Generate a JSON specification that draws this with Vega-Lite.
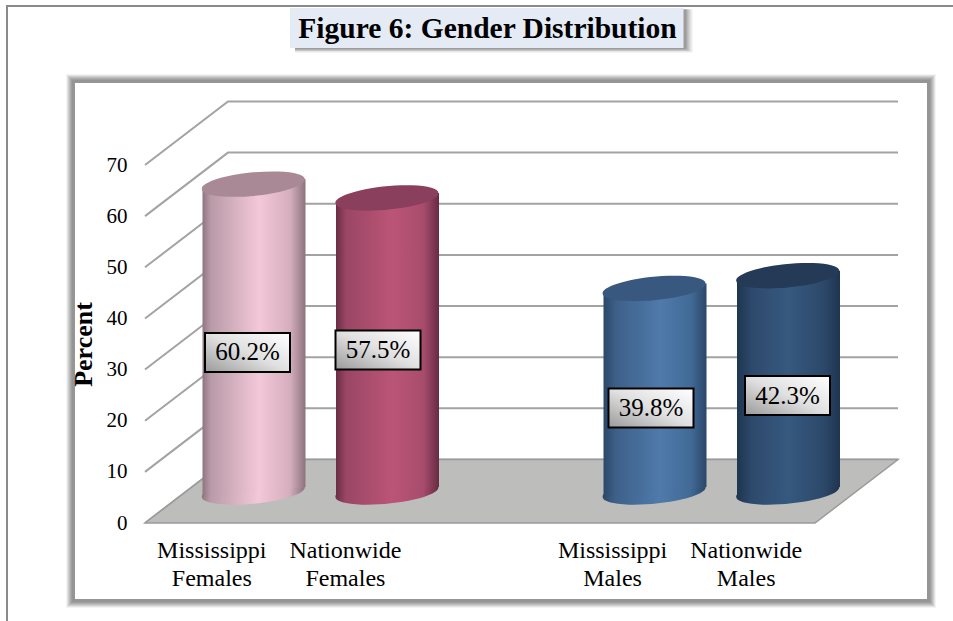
{
"$schema":"https://vega.github.io/schema/vega-lite/v6.json",
"width":670,"height":358,
"autosize":"none",
"padding":{"left":145,"top":165,"right":138,"bottom":98},
"background":"white",
"config":{"view":{"stroke":null}},
"datasets":{
"heading":[{"text":"Figure 6: Gender Distribution","along":342.5,"level":94.84}],
"cylinders":[
{"name":"Mississippi Females","value":60.2,"text":"60.2%","labelAlong":102.5,"labelLevel":33.34},
{"name":"Nationwide Females","value":57.5,"text":"57.5%","labelAlong":233,"labelLevel":33.83},
{"name":"Mississippi Males","value":39.8,"text":"39.8%","labelAlong":506,"labelLevel":22.49},
{"name":"Nationwide Males","value":42.3,"text":"42.3%","labelAlong":642.5,"labelLevel":24.93}
],
"body":[
{"name":"Mississippi Females","along":57.5,"top":59.22,"base":-0.98},
{"name":"Mississippi Females","along":160.5,"top":61.18,"base":0.98},
{"name":"Nationwide Females","along":191,"top":56.52,"base":-0.98},
{"name":"Nationwide Females","along":294,"top":58.48,"base":0.98},
{"name":"Mississippi Males","along":458.5,"top":38.82,"base":-0.98},
{"name":"Mississippi Males","along":561.5,"top":40.78,"base":0.98},
{"name":"Nationwide Males","along":592,"top":41.32,"base":-0.98},
{"name":"Nationwide Males","along":695,"top":43.28,"base":0.98}
],
"panels":[
{"part":"title shadow 1","a":150,"a2":547.5,"b":100.4,"b2":92.02},
{"part":"title shadow 2","a":150,"a2":545.5,"b":100.4,"b2":92.22},
{"part":"title shadow 3","a":150,"a2":543.5,"b":100.4,"b2":92.41},
{"part":"title shadow 4","a":150,"a2":541.5,"b":100.4,"b2":92.61},
{"part":"title box","a":145,"a2":538.5,"b":100.7,"b2":92.9},
{"part":"shadow 1","a":-79,"a2":791,"b":87.8,"b2":-16.62},
{"part":"shadow 2","a":-78,"a2":790,"b":87.6,"b2":-16.42},
{"part":"shadow 3","a":-77,"a2":789,"b":87.41,"b2":-16.23},
{"part":"shadow 4","a":-76,"a2":788,"b":87.21,"b2":-16.03},
{"part":"shadow 5","a":-75,"a2":787,"b":87.02,"b2":-15.84},
{"part":"shadow 6","a":-74,"a2":786,"b":86.82,"b2":-15.64},
{"part":"shadow 7","a":-73,"a2":785,"b":86.63,"b2":-15.45},
{"part":"plot panel","a":-70,"a2":782,"b":86.04,"b2":-14.86}
],
"page":[
{"i":1,"a":-138,"b":-19.6},
{"i":2,"a":-138,"b":101.1},
{"i":3,"a":808,"b":101.1}
],
"floor":[
{"a":0,"lo":0,"hi":0},
{"a":83,"lo":0,"hi":12.42},
{"a":670,"lo":0,"hi":12.42},
{"a":753,"lo":12.42,"hi":12.42}
],
"grid":[
{"t":0,"a":0,"b":0},{"t":0,"a":83,"b":12.42},{"t":0,"a":753,"b":12.42},
{"t":10,"a":0,"b":10},{"t":10,"a":83,"b":22.42},{"t":10,"a":753,"b":22.42},
{"t":20,"a":0,"b":20},{"t":20,"a":83,"b":32.42},{"t":20,"a":753,"b":32.42},
{"t":30,"a":0,"b":30},{"t":30,"a":83,"b":42.42},{"t":30,"a":753,"b":42.42},
{"t":40,"a":0,"b":40},{"t":40,"a":83,"b":52.42},{"t":40,"a":753,"b":52.42},
{"t":50,"a":0,"b":50},{"t":50,"a":83,"b":62.42},{"t":50,"a":753,"b":62.42},
{"t":60,"a":0,"b":60},{"t":60,"a":83,"b":72.42},{"t":60,"a":753,"b":72.42},
{"t":70,"a":0,"b":70},{"t":70,"a":83,"b":82.42},{"t":70,"a":753,"b":82.42}
]
},
"resolve":{"scale":{"x":"independent","fill":"independent"},"axis":{"x":"independent"}},
"layer":[
{"data":{"name":"page"},"mark":{"type":"line","color":"#8a8a8a","strokeWidth":2,"clip":false},
 "encoding":{"x":{"field":"a","type":"quantitative","axis":null,"scale":{"domain":[0,670],"nice":false,"zero":false}},
 "y":{"field":"b","type":"quantitative","scale":{"domain":[0,70],"nice":false,"zero":false}},
 "order":{"field":"i","type":"ordinal"}}},
{"data":{"name":"panels"},"mark":{"type":"rect"},
 "encoding":{"x":{"field":"a","type":"quantitative","axis":null,"scale":{"domain":[0,670],"nice":false,"zero":false}},"x2":{"field":"a2"},
 "y":{"field":"b","type":"quantitative"},"y2":{"field":"b2"},
 "fill":{"field":"part","type":"nominal","legend":null,"scale":{
  "domain":["title shadow 1","title shadow 2","title shadow 3","title shadow 4","title box","shadow 1","shadow 2","shadow 3","shadow 4","shadow 5","shadow 6","shadow 7","plot panel"],
  "range":["#ececec","#d4d4d4","#b8b8b8","#9c9c9c","#e4ebf5","#f4f4f4","#e2e2e2","#cfcfcf","#bdbdbd","#adadad","#a0a0a0","#959595","#ffffff"]}}}},
{"data":{"name":"heading"},"mark":{"type":"text","font":"Liberation Serif","fontSize":29.5,"fontWeight":"bold","color":"#000000","align":"center","baseline":"alphabetic"},
 "encoding":{"x":{"field":"along","type":"quantitative","axis":null,"scale":{"domain":[0,670],"nice":false,"zero":false}},"y":{"field":"level","type":"quantitative"},"text":{"field":"text","type":"nominal"}}},
{"data":{"name":"grid"},"mark":{"type":"line","color":"#a3a3a3","strokeWidth":2},
 "encoding":{"x":{"field":"a","type":"quantitative","axis":null,"scale":{"domain":[0,670],"nice":false,"zero":false}},
 "y":{"field":"b","type":"quantitative"},"detail":{"field":"t","type":"nominal"}}},
{"data":{"name":"floor"},"mark":{"type":"area","fill":"#bdbdbb","stroke":"#9a9a9a","strokeWidth":1.5},
 "encoding":{"x":{"field":"a","type":"quantitative","axis":null,"scale":{"domain":[0,670],"nice":false,"zero":false}},
 "y":{"field":"hi","type":"quantitative"},"y2":{"field":"lo"}}},
{"data":{"name":"cylinders"},"mark":{"type":"point","filled":true,"opacity":0,"size":1},
 "encoding":{"x":{"field":"name","type":"nominal","sort":null,
   "scale":{"type":"band","domain":["Mississippi Females","Nationwide Females","gap","Mississippi Males","Nationwide Males"],"range":[0,668],"paddingInner":0,"paddingOuter":0},
   "axis":{"title":null,"values":["Mississippi Females","Nationwide Females","Mississippi Males","Nationwide Males"],"labelExpr":"split(datum.label,' ')","labelAngle":0,"labelFont":"Liberation Serif","labelFontSize":24,"labelColor":"#000000","labelLineHeight":28,"labelPadding":15,"labelBaseline":"top","domain":false,"ticks":false,"grid":false,"labelOverlap":false,"labelLimit":0,"zindex":1}},
  "y":{"field":"value","type":"quantitative","axis":{"values":[0,10,20,30,40,50,60,70],"title":"Percent","titleFont":"Liberation Serif","titleFontSize":26,"titleFontWeight":"bold","titleColor":"#000000","titleX":-62,"titleY":179,"titleBaseline":"middle","labelFont":"Liberation Serif","labelFontSize":21,"labelColor":"#000000","labelPadding":18,"domain":false,"ticks":false,"grid":false,"zindex":1}}}},
{"data":{"name":"cylinders"},"transform":[{"filter":"datum.name==='Mississippi Females'"}],"mark":{"type":"point","filled":true,"opacity":1,"xOffset":41.5,"yOffset":-31,"shape":"M -1 0.098 A 1.005 0.223 -5.6 1 1 1 -0.098 A 1.005 0.223 -5.6 1 1 -1 0.098 Z","size":10609,"fill":{"gradient":"linear","x1":0,"y1":0,"x2":1,"y2":0,"stops":[{"offset":0,"color":"#8f7580"},{"offset":0.08,"color":"#b99aa8"},{"offset":0.55,"color":"#f3c8d8"},{"offset":0.85,"color":"#d5aebd"},{"offset":1,"color":"#8d737e"}]}},
 "encoding":{"x":{"field":"name","type":"nominal","axis":null,"scale":{"type":"band","domain":["Mississippi Females","Nationwide Females","gap","Mississippi Males","Nationwide Males"],"range":[0,668],"paddingInner":0,"paddingOuter":0}},"y":{"datum":0,"type":"quantitative"}}},
{"data":{"name":"cylinders"},"transform":[{"filter":"datum.name==='Nationwide Females'"}],"mark":{"type":"point","filled":true,"opacity":1,"xOffset":41.5,"yOffset":-31,"shape":"M -1 0.098 A 1.005 0.223 -5.6 1 1 1 -0.098 A 1.005 0.223 -5.6 1 1 -1 0.098 Z","size":10609,"fill":{"gradient":"linear","x1":0,"y1":0,"x2":1,"y2":0,"stops":[{"offset":0,"color":"#6a2d45"},{"offset":0.1,"color":"#9a4664"},{"offset":0.55,"color":"#bb5577"},{"offset":0.85,"color":"#a84c6c"},{"offset":1,"color":"#672b42"}]}},
 "encoding":{"x":{"field":"name","type":"nominal","axis":null,"scale":{"type":"band","domain":["Mississippi Females","Nationwide Females","gap","Mississippi Males","Nationwide Males"],"range":[0,668],"paddingInner":0,"paddingOuter":0}},"y":{"datum":0,"type":"quantitative"}}},
{"data":{"name":"cylinders"},"transform":[{"filter":"datum.name==='Mississippi Males'"}],"mark":{"type":"point","filled":true,"opacity":1,"xOffset":41.5,"yOffset":-31,"shape":"M -1 0.098 A 1.005 0.223 -5.6 1 1 1 -0.098 A 1.005 0.223 -5.6 1 1 -1 0.098 Z","size":10609,"fill":{"gradient":"linear","x1":0,"y1":0,"x2":1,"y2":0,"stops":[{"offset":0,"color":"#2c4768"},{"offset":0.12,"color":"#3d6088"},{"offset":0.55,"color":"#4f7aab"},{"offset":0.85,"color":"#416a96"},{"offset":1,"color":"#2c4768"}]}},
 "encoding":{"x":{"field":"name","type":"nominal","axis":null,"scale":{"type":"band","domain":["Mississippi Females","Nationwide Females","gap","Mississippi Males","Nationwide Males"],"range":[0,668],"paddingInner":0,"paddingOuter":0}},"y":{"datum":0,"type":"quantitative"}}},
{"data":{"name":"cylinders"},"transform":[{"filter":"datum.name==='Nationwide Males'"}],"mark":{"type":"point","filled":true,"opacity":1,"xOffset":41.5,"yOffset":-31,"shape":"M -1 0.098 A 1.005 0.223 -5.6 1 1 1 -0.098 A 1.005 0.223 -5.6 1 1 -1 0.098 Z","size":10609,"fill":{"gradient":"linear","x1":0,"y1":0,"x2":1,"y2":0,"stops":[{"offset":0,"color":"#1f3550"},{"offset":0.15,"color":"#2d4a6c"},{"offset":0.5,"color":"#36597f"},{"offset":0.85,"color":"#2c4869"},{"offset":1,"color":"#1f3450"}]}},
 "encoding":{"x":{"field":"name","type":"nominal","axis":null,"scale":{"type":"band","domain":["Mississippi Females","Nationwide Females","gap","Mississippi Males","Nationwide Males"],"range":[0,668],"paddingInner":0,"paddingOuter":0}},"y":{"datum":0,"type":"quantitative"}}},
{"data":{"name":"body"},"transform":[{"filter":"datum.name==='Mississippi Females'"}],"mark":{"type":"area","yOffset":-31,"y2Offset":-31,"fill":{"gradient":"linear","x1":0,"y1":0,"x2":1,"y2":0,"stops":[{"offset":0,"color":"#8f7580"},{"offset":0.08,"color":"#b99aa8"},{"offset":0.55,"color":"#f3c8d8"},{"offset":0.85,"color":"#d5aebd"},{"offset":1,"color":"#8d737e"}]}},
 "encoding":{"x":{"field":"along","type":"quantitative","axis":null,"scale":{"domain":[0,670],"nice":false,"zero":false}},"y":{"field":"top","type":"quantitative"},"y2":{"field":"base"}}},
{"data":{"name":"body"},"transform":[{"filter":"datum.name==='Nationwide Females'"}],"mark":{"type":"area","yOffset":-31,"y2Offset":-31,"fill":{"gradient":"linear","x1":0,"y1":0,"x2":1,"y2":0,"stops":[{"offset":0,"color":"#6a2d45"},{"offset":0.1,"color":"#9a4664"},{"offset":0.55,"color":"#bb5577"},{"offset":0.85,"color":"#a84c6c"},{"offset":1,"color":"#672b42"}]}},
 "encoding":{"x":{"field":"along","type":"quantitative","axis":null,"scale":{"domain":[0,670],"nice":false,"zero":false}},"y":{"field":"top","type":"quantitative"},"y2":{"field":"base"}}},
{"data":{"name":"body"},"transform":[{"filter":"datum.name==='Mississippi Males'"}],"mark":{"type":"area","yOffset":-31,"y2Offset":-31,"fill":{"gradient":"linear","x1":0,"y1":0,"x2":1,"y2":0,"stops":[{"offset":0,"color":"#2c4768"},{"offset":0.12,"color":"#3d6088"},{"offset":0.55,"color":"#4f7aab"},{"offset":0.85,"color":"#416a96"},{"offset":1,"color":"#2c4768"}]}},
 "encoding":{"x":{"field":"along","type":"quantitative","axis":null,"scale":{"domain":[0,670],"nice":false,"zero":false}},"y":{"field":"top","type":"quantitative"},"y2":{"field":"base"}}},
{"data":{"name":"body"},"transform":[{"filter":"datum.name==='Nationwide Males'"}],"mark":{"type":"area","yOffset":-31,"y2Offset":-31,"fill":{"gradient":"linear","x1":0,"y1":0,"x2":1,"y2":0,"stops":[{"offset":0,"color":"#1f3550"},{"offset":0.15,"color":"#2d4a6c"},{"offset":0.5,"color":"#36597f"},{"offset":0.85,"color":"#2c4869"},{"offset":1,"color":"#1f3450"}]}},
 "encoding":{"x":{"field":"along","type":"quantitative","axis":null,"scale":{"domain":[0,670],"nice":false,"zero":false}},"y":{"field":"top","type":"quantitative"},"y2":{"field":"base"}}},
{"data":{"name":"cylinders"},"mark":{"type":"point","filled":true,"opacity":1,"xOffset":41.5,"yOffset":-31,"shape":"M -1 0.098 A 1.005 0.223 -5.6 1 1 1 -0.098 A 1.005 0.223 -5.6 1 1 -1 0.098 Z","size":10609},
 "encoding":{"x":{"field":"name","type":"nominal","sort":null,"axis":null,
   "scale":{"type":"band","domain":["Mississippi Females","Nationwide Females","gap","Mississippi Males","Nationwide Males"],"range":[0,668],"paddingInner":0,"paddingOuter":0}},
  "y":{"field":"value","type":"quantitative"},
  "fill":{"field":"name","type":"nominal","legend":null,"scale":{"domain":["Mississippi Females","Nationwide Females","Mississippi Males","Nationwide Males"],"range":["#a98995","#8a3f5c","#38587f","#243a57"]}}}},
{"data":{"name":"cylinders"},"mark":{"type":"point","filled":true,"opacity":1,"shape":"M -1 -0.46 L 1 -0.46 L 1 0.46 L -1 0.46 Z","size":7225,"stroke":"#000000","strokeWidth":2,"fill":{"gradient":"linear","x1":0,"y1":1,"x2":1,"y2":0,"stops":[{"offset":0,"color":"#9a9a9a"},{"offset":0.5,"color":"#e0e0e0"},{"offset":1,"color":"#ffffff"}]}},
 "encoding":{"x":{"field":"labelAlong","type":"quantitative","axis":null,"scale":{"domain":[0,670],"nice":false,"zero":false}},
  "y":{"field":"labelLevel","type":"quantitative"}}},
{"data":{"name":"cylinders"},"mark":{"type":"text","font":"Liberation Serif","fontSize":25,"color":"#000000","align":"center","baseline":"middle"},
 "encoding":{"x":{"field":"labelAlong","type":"quantitative","axis":null,"scale":{"domain":[0,670],"nice":false,"zero":false}},
  "y":{"field":"labelLevel","type":"quantitative"},"text":{"field":"text","type":"nominal"}}}
]
}
